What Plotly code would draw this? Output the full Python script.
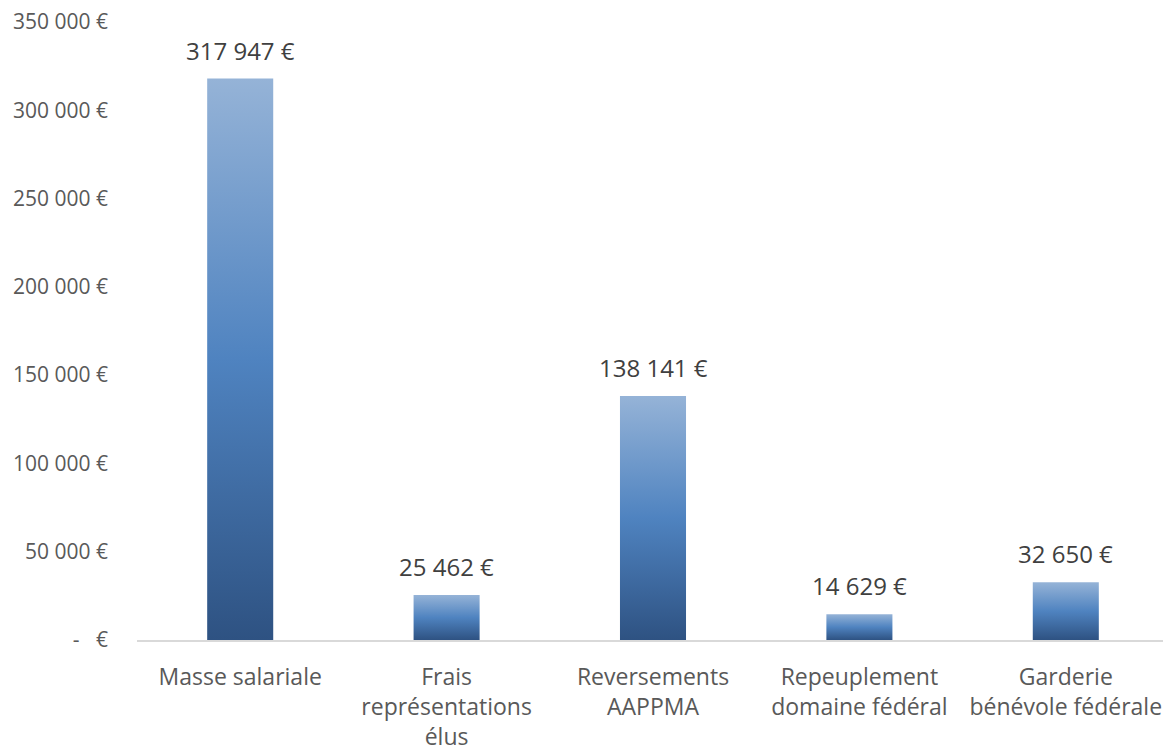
import plotly.graph_objects as go

categories = [
    "Masse salariale",
    "Frais<br>représentations<br>élus",
    "Reversements<br>AAPPMA",
    "Repeuplement<br>domaine fédéral",
    "Garderie<br>bénévole fédérale",
]
values = [317947, 25462, 138141, 14629, 32650]
y_ticks = [0, 50000, 100000, 150000, 200000, 250000, 300000, 350000]


def euro(v):
    if v == 0:
        return "-   €"
    return f"{v:,}".replace(",", " ") + " €"


gradient = [[0.0, "#2E5282"], [0.5, "#4F83C0"], [1.0, "#95B3D7"]]
half_width = 0.16

fig = go.Figure()
for i, v in enumerate(values):
    fig.add_trace(
        go.Scatter(
            x=[i - half_width, i + half_width, i + half_width, i - half_width, i - half_width],
            y=[0, 0, v, v, 0],
            mode="lines",
            line_width=0,
            fill="toself",
            fillgradient=dict(type="vertical", colorscale=gradient),
            hoverinfo="skip",
            showlegend=False,
        )
    )
    fig.add_annotation(
        x=i,
        y=v,
        text=euro(v),
        showarrow=False,
        yanchor="bottom",
        yshift=10,
        font=dict(size=24, color="#404040"),
    )

fig.update_layout(
    width=1163,
    height=747,
    margin=dict(l=129, r=2, t=14, b=115),
    plot_bgcolor="white",
    paper_bgcolor="white",
    font=dict(family="Open Sans, sans-serif", color="#595959"),
    showlegend=False,
)
fig.update_xaxes(
    range=[-0.5, 4.5],
    tickvals=list(range(len(categories))),
    ticktext=categories,
    tickfont=dict(size=23, color="#595959"),
    showgrid=False,
    zeroline=False,
    showline=True,
    linecolor="#D9D9D9",
    linewidth=1.5,
    ticks="",
    ticklabelstandoff=16,
    automargin=False,
    ticklabeloverflow="allow",
)
fig.update_yaxes(
    range=[0, 350000],
    tickvals=y_ticks,
    ticktext=[euro(t) for t in y_ticks],
    tickfont=dict(size=21, color="#595959"),
    showgrid=False,
    zeroline=False,
    showline=False,
    ticks="",
    ticklabelstandoff=28,
    automargin=False,
    ticklabeloverflow="allow",
)

fig.write_html("out.html")
